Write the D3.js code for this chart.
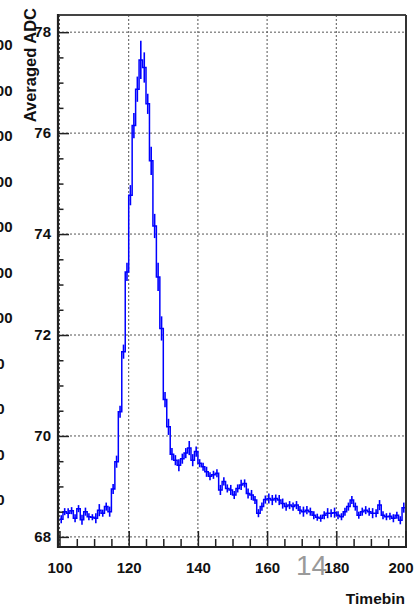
<!DOCTYPE html>
<html>
<head>
<meta charset="utf-8">
<script src="https://cdn.jsdelivr.net/npm/d3@7"></script>
<style>
  html, body { margin: 0; padding: 0; background: #fff; }
  svg { display: block; }
  text { font-family: "Liberation Sans", Arial, Helvetica, sans-serif; }
</style>
</head>
<body>
<div id="chart"></div>
<script>
// Averaged ADC per timebin, one value per bin of width 1 starting at 100
const firstBin = 100;
const binWidth = 1;
const adcValues = [
  68.35, 68.50, 68.47, 68.52, 68.37, 68.56, 68.34, 68.50, 68.40, 68.39,
  68.37, 68.53, 68.47, 68.60, 68.50, 68.95, 69.49, 70.48, 71.67, 73.25,
  74.77, 76.15, 76.87, 77.45, 77.30, 76.58, 75.45, 74.16, 73.15, 72.13,
  70.72, 70.18, 69.64, 69.52, 69.42, 69.55, 69.66, 69.76, 69.52, 69.69,
  69.46, 69.39, 69.29, 69.20, 69.23, 69.26, 68.93, 69.10, 68.96, 68.93,
  68.83, 68.96, 69.03, 69.06, 68.86, 68.83, 68.73, 68.47, 68.60, 68.74,
  68.76, 68.73, 68.76, 68.73, 68.66, 68.60, 68.63, 68.60, 68.63, 68.53,
  68.50, 68.53, 68.50, 68.43, 68.39, 68.37, 68.43, 68.47, 68.47, 68.48,
  68.43, 68.40, 68.50, 68.60, 68.73, 68.60, 68.43, 68.50, 68.53, 68.50,
  68.47, 68.47, 68.63, 68.43, 68.40, 68.41, 68.37, 68.43, 68.33, 68.58
];
// Per-bin uncertainty drawn as vertical error bars
const adcErrors = [
  0.08, 0.07, 0.10, 0.07, 0.08, 0.07, 0.10, 0.08, 0.07, 0.06,
  0.10, 0.12, 0.07, 0.08, 0.10, 0.10, 0.12, 0.12, 0.14, 0.18,
  0.20, 0.25, 0.25, 0.38, 0.30, 0.20, 0.28, 0.24, 0.28, 0.24,
  0.15, 0.16, 0.12, 0.10, 0.12, 0.10, 0.10, 0.14, 0.12, 0.10,
  0.08, 0.08, 0.10, 0.08, 0.08, 0.08, 0.10, 0.08, 0.08, 0.10,
  0.08, 0.08, 0.10, 0.08, 0.10, 0.10, 0.08, 0.08, 0.08, 0.08,
  0.10, 0.10, 0.08, 0.10, 0.10, 0.08, 0.08, 0.08, 0.08, 0.08,
  0.10, 0.08, 0.08, 0.08, 0.07, 0.07, 0.08, 0.10, 0.08, 0.10,
  0.08, 0.07, 0.08, 0.08, 0.08, 0.08, 0.07, 0.08, 0.08, 0.08,
  0.10, 0.08, 0.10, 0.08, 0.07, 0.07, 0.08, 0.07, 0.08, 0.10
];

const xDomain = [100, 200];
const yDomain = [67.8, 78.34];
const xMajorTicks = [100, 120, 140, 160, 180, 200];
const xMinorTicks = [105, 110, 115, 125, 130, 135, 145, 150, 155, 165, 170, 175, 185, 190, 195];
const yMajorTicks = [68, 70, 72, 74, 76, 78];
const yMinorTicks = [68.5, 69, 69.5, 70.5, 71, 71.5, 72.5, 73, 73.5, 74.5, 75, 75.5, 76.5, 77, 77.5];
const xTitle = "Timebin";
const yTitle = "Averaged ADC";
const pageNumber = "14";
// Clipped tick labels of the neighbouring panel at the left edge
const neighbourLabels = ["00", "00", "00", "00", "00", "00", "00", "0", "0", "0", "0"];

const W = 418, H = 608;
const svg = d3.select("#chart").append("svg").attr("width", W).attr("height", H);

const frame = { left: 58, right: 406, top: 15, bottom: 547 };
const x = d3.scaleLinear().domain(xDomain).range([59.5, 405.5]);
const y = d3.scaleLinear().domain(yDomain).range([frame.bottom, frame.top]);

const bold = "bold";
const tickFont = 15;

// Neighbouring panel labels, cut by the window edge
const nY = d3.scaleLinear().domain([0, neighbourLabels.length - 1]).range([50, 505]);
svg.append("g").selectAll("text").data(neighbourLabels).join("text")
  .attr("x", d => d.length > 1 ? 12.5 : 4.5)
  .attr("y", (d, i) => nY(i))
  .attr("text-anchor", "end")
  .attr("font-size", tickFont).attr("font-weight", bold).attr("fill", "#111")
  .text(d => d);

// Dotted grid at the major ticks
const grid = svg.append("g").attr("stroke", "#555").attr("stroke-width", 1).attr("stroke-dasharray", "2,2");
grid.selectAll("line.gx").data(xMajorTicks).join("line").attr("class", "gx")
  .attr("x1", d => x(d)).attr("x2", d => x(d)).attr("y1", frame.top).attr("y2", frame.bottom);
grid.selectAll("line.gy").data(yMajorTicks).join("line").attr("class", "gy")
  .attr("x1", frame.left).attr("x2", frame.right).attr("y1", d => y(d)).attr("y2", d => y(d));

// Histogram drawn as a step line over the bin edges
const edges = adcValues.map((v, i) => [firstBin + i * binWidth, v]);
edges.push([firstBin + adcValues.length * binWidth, adcValues[adcValues.length - 1]]);
const stepLine = d3.line().x(d => x(d[0])).y(d => y(d[1])).curve(d3.curveStepAfter);
svg.append("path").datum(edges)
  .attr("d", stepLine)
  .attr("fill", "none").attr("stroke", "#0000ff").attr("stroke-width", 1.5)
  .attr("stroke-linejoin", "miter");

// Error bars at bin centres
svg.append("g").attr("stroke", "#0000ff").attr("stroke-width", 1.6)
  .selectAll("line").data(adcValues).join("line")
  .attr("x1", (v, i) => x(firstBin + (i + 0.5) * binWidth))
  .attr("x2", (v, i) => x(firstBin + (i + 0.5) * binWidth))
  .attr("y1", (v, i) => y(v - adcErrors[i]))
  .attr("y2", (v, i) => y(v + adcErrors[i]));

// Frame
svg.append("line").attr("x1", frame.left).attr("x2", frame.right).attr("y1", frame.top).attr("y2", frame.top)
  .attr("stroke", "#444").attr("stroke-width", 2);
svg.append("line").attr("x1", frame.right).attr("x2", frame.right).attr("y1", frame.top).attr("y2", frame.bottom)
  .attr("stroke", "#333").attr("stroke-width", 2);
svg.append("line").attr("x1", frame.left).attr("x2", frame.left).attr("y1", frame.top - 1).attr("y2", frame.bottom + 1)
  .attr("stroke", "#222").attr("stroke-width", 2.2);
svg.append("line").attr("x1", frame.left - 1).attr("x2", frame.right + 1).attr("y1", frame.bottom).attr("y2", frame.bottom)
  .attr("stroke", "#222").attr("stroke-width", 2.2);

// X axis: ticks point into the frame
const xAxisG = svg.append("g").attr("transform", `translate(0,${frame.bottom})`);
xAxisG.call(d3.axisBottom(x).tickValues(xMajorTicks).tickSizeInner(-16).tickSizeOuter(0).tickPadding(15).tickFormat(d3.format("d")));
xAxisG.append("g").call(d3.axisBottom(x).tickValues(xMinorTicks).tickSizeInner(-8).tickSizeOuter(0).tickFormat(""));
xAxisG.selectAll(".domain").remove();
xAxisG.selectAll("line").attr("stroke", "#222").attr("stroke-width", 1.5);
xAxisG.selectAll("text").attr("font-size", tickFont).attr("font-weight", bold).attr("fill", "#111")
  .attr("font-family", "Liberation Sans, Arial, sans-serif")
  .attr("dx", d => d === xDomain[1] ? -5 : 0);

// Y axis: ticks point into the frame
const yAxisG = svg.append("g").attr("transform", `translate(${frame.left},0)`);
yAxisG.call(d3.axisLeft(y).tickValues(yMajorTicks).tickSizeInner(-11).tickSizeOuter(0).tickPadding(7).tickFormat(d3.format("d")));
yAxisG.append("g").call(d3.axisLeft(y).tickValues(yMinorTicks).tickSizeInner(-5.5).tickSizeOuter(0).tickFormat(""));
yAxisG.selectAll(".domain").remove();
yAxisG.selectAll("line").attr("stroke", "#222").attr("stroke-width", 1.5);
yAxisG.selectAll("text").attr("font-size", tickFont).attr("font-weight", bold).attr("fill", "#111")
  .attr("font-family", "Liberation Sans, Arial, sans-serif");

// Axis titles, aligned to the far end of each axis
svg.append("text")
  .attr("x", frame.right - 1).attr("y", 604)
  .attr("text-anchor", "end")
  .attr("font-size", 15.5).attr("font-weight", bold).attr("fill", "#111")
  .text(xTitle);
svg.append("text")
  .attr("transform", `translate(36,8) rotate(-90)`)
  .attr("text-anchor", "end")
  .attr("font-size", 16.5).attr("font-weight", bold).attr("fill", "#111")
  .text(yTitle);

// Slide page number
svg.append("text")
  .attr("x", 296).attr("y", 575)
  .attr("font-size", 28).attr("fill", "#9a9a9a")
  .text(pageNumber);
</script>
</body>
</html>
